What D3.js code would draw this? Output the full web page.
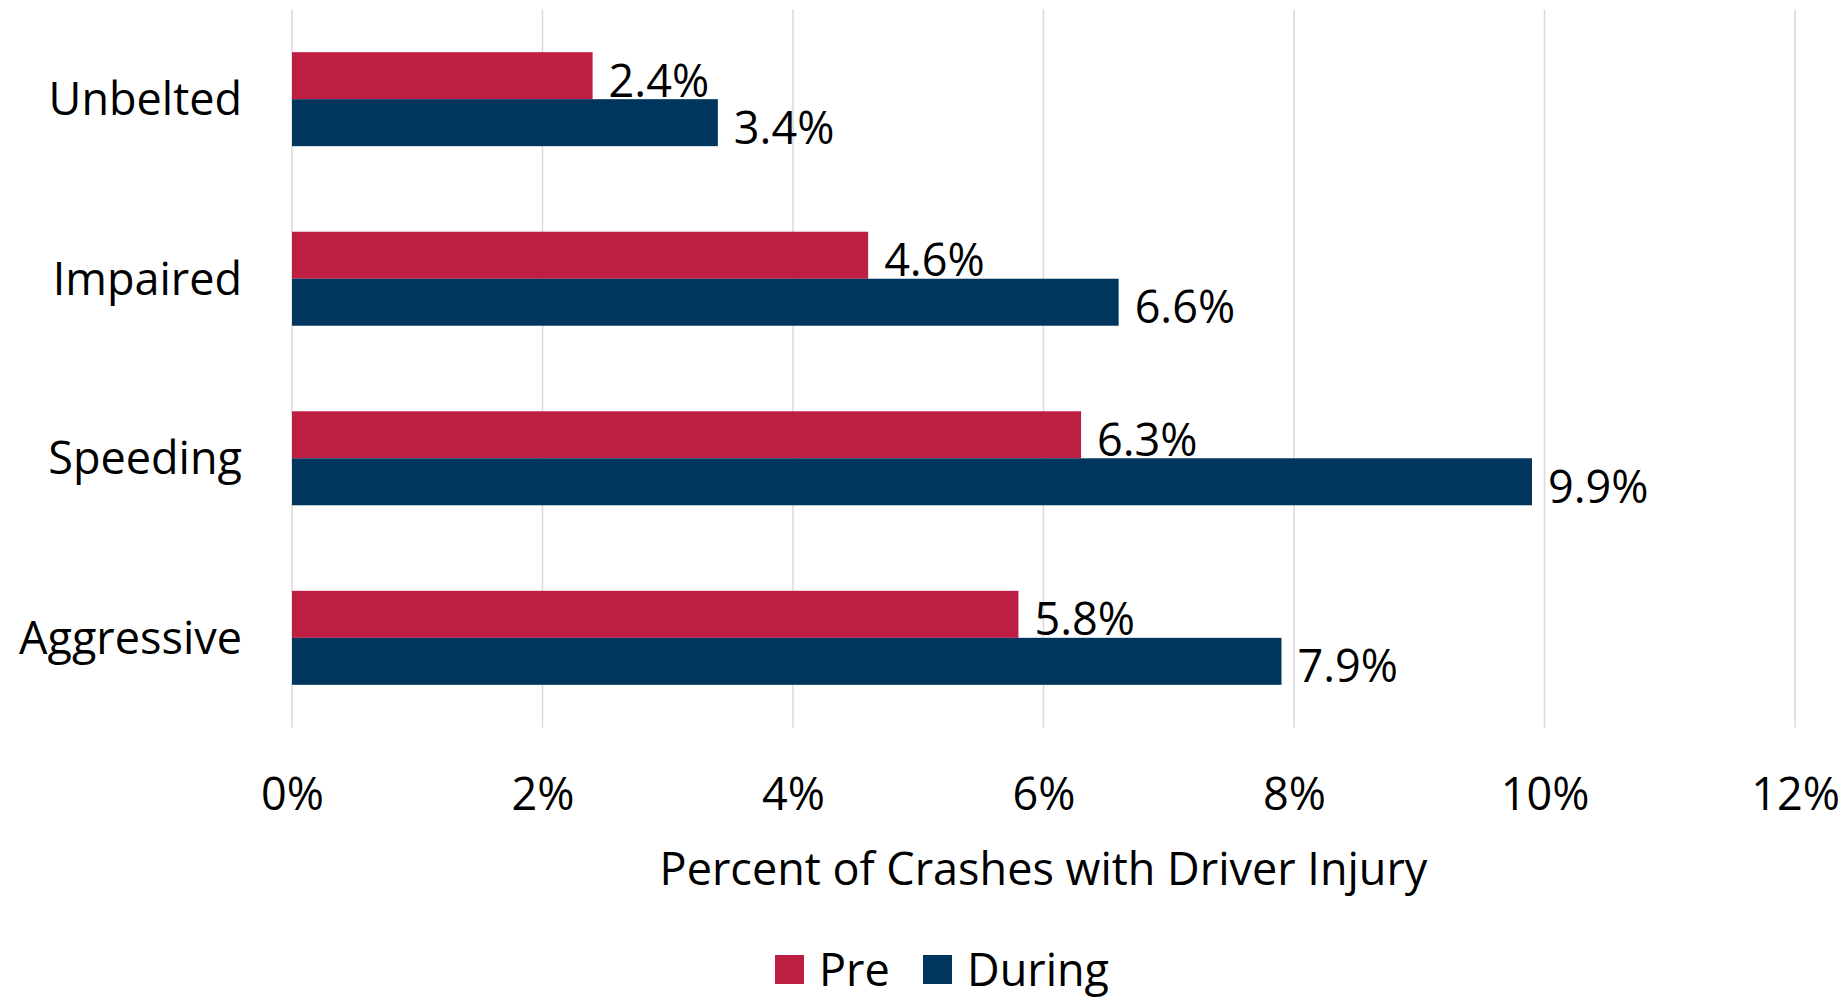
<!DOCTYPE html>
<html>
<head>
<meta charset="utf-8">
<script src="https://cdn.jsdelivr.net/npm/d3@7"></script>
<style>
  html, body { margin: 0; padding: 0; background: #fff; }
  svg { display: block; }
  text { font-family: "Open Sans", "Noto Sans", sans-serif; fill: #000; }
</style>
</head>
<body>
<svg id="chart" width="1846" height="998"></svg>
<script>
const categories = ["Unbelted", "Impaired", "Speeding", "Aggressive"];
const seriesNames = ["Pre", "During"];
const preValues = [2.4, 4.6, 6.3, 5.8];
const duringValues = [3.4, 6.6, 9.9, 7.9];
const tickValues = [0, 2, 4, 6, 8, 10, 12];
const axisTitle = "Percent of Crashes with Driver Injury";
const colors = ["#BE1E42", "#00365E"];

(function () {
const svg = d3.select("#chart");
const fontSize = 45;

const plotLeft = 292, plotRight = 1795, plotTop = 9.4, plotBottom = 727.6;

const x = d3.scaleLinear().domain([0, 12]).range([plotLeft, plotRight]);
const y = d3.scaleBand().domain(categories).range([plotTop, plotBottom])
  .paddingInner(0.4765).paddingOuter(0.4765 / 2);
const ySub = d3.scaleBand().domain(seriesNames).range([0, y.bandwidth()]);
const color = d3.scaleOrdinal().domain(seriesNames).range(colors);

const data = categories.map((c, i) => ({
  category: c,
  values: [
    { series: "Pre", value: preValues[i] },
    { series: "During", value: duringValues[i] }
  ]
}));

// gridlines
svg.append("g")
  .selectAll("line")
  .data(tickValues)
  .join("line")
  .attr("x1", d => x(d)).attr("x2", d => x(d))
  .attr("y1", plotTop).attr("y2", plotBottom)
  .attr("stroke", "#d9d9d9")
  .attr("stroke-width", 1.5);

// bars
const groups = svg.append("g")
  .selectAll("g")
  .data(data)
  .join("g")
  .attr("transform", d => `translate(0,${y(d.category)})`);

groups.selectAll("rect")
  .data(d => d.values)
  .join("rect")
  .attr("x", x(0))
  .attr("y", d => ySub(d.series))
  .attr("width", d => x(d.value) - x(0))
  .attr("height", ySub.bandwidth())
  .attr("fill", d => color(d.series));

groups.selectAll("text.lbl")
  .data(d => d.values)
  .join("text")
  .attr("class", "lbl")
  .attr("x", d => x(d.value) + 16)
  .attr("y", d => ySub(d.series) + ySub.bandwidth() / 2 + 21)
  .attr("font-size", fontSize)
  .text(d => d.value.toFixed(1) + "%");

// category axis labels
svg.append("g")
  .selectAll("text")
  .data(categories)
  .join("text")
  .attr("x", 242)
  .attr("y", d => y(d) + y.bandwidth() / 2 + 16)
  .attr("text-anchor", "end")
  .attr("font-size", fontSize)
  .text(d => d);

// x axis tick labels
const xAxis = d3.axisBottom(x).tickValues(tickValues).tickFormat(d => d + "%").tickSize(0).tickPadding(0);
const gx = svg.append("g").attr("transform", `translate(0,${plotBottom})`).call(xAxis);
gx.select(".domain").remove();
gx.selectAll("text")
  .attr("font-size", fontSize)
  .attr("font-family", '"Open Sans", "Noto Sans", sans-serif')
  .attr("fill", "#000")
  .attr("dy", null)
  .attr("y", 810 - plotBottom);

// axis title
svg.append("text")
  .attr("x", (plotLeft + plotRight) / 2)
  .attr("y", 885)
  .attr("text-anchor", "middle")
  .attr("font-size", fontSize)
  .text(axisTitle);

// legend
const legendItems = [
  { name: "Pre", sx: 775, tx: 819 },
  { name: "During", sx: 923, tx: 967 }
];
const lg = svg.append("g");
lg.selectAll("rect")
  .data(legendItems)
  .join("rect")
  .attr("x", d => d.sx).attr("y", 955)
  .attr("width", 29).attr("height", 29)
  .attr("fill", d => color(d.name));
lg.selectAll("text")
  .data(legendItems)
  .join("text")
  .attr("x", d => d.tx).attr("y", 986)
  .attr("font-size", fontSize)
  .text(d => d.name);
})();
</script>
</body>
</html>
